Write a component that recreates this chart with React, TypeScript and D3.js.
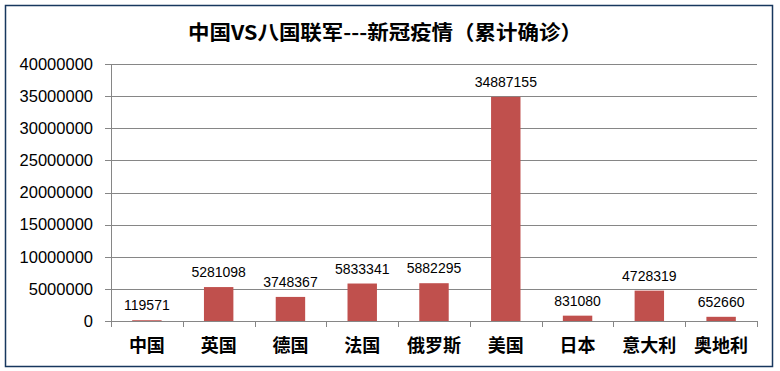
import { useEffect, useRef } from 'react';
import * as d3 from 'd3';

const countries = ['中国', '英国', '德国', '法国', '俄罗斯', '美国', '日本', '意大利', '奥地利'];
const confirmed = [119571, 5281098, 3748367, 5833341, 5882295, 34887155, 831080, 4728319, 652660];
const yTicks = [0, 5000000, 10000000, 15000000, 20000000, 25000000, 30000000, 35000000, 40000000];
const title = '中国VS八国联军---新冠疫情（累计确诊）';

export default function App() {
  const svgRef = useRef<SVGSVGElement>(null);

  useEffect(() => {
    if (!svgRef.current) return;
    const width = 780;
    const height = 371;
    const left = 111;
    const right = 757;
    const top = 64;
    const bottom = 321;

    const svg = d3.select(svgRef.current);
    svg.selectAll('*').remove();

    svg.append('rect')
      .attr('width', width)
      .attr('height', height)
      .attr('fill', '#fff');

    // outer frame
    svg.append('rect')
      .attr('x', 5.5)
      .attr('y', 5.5)
      .attr('width', 767)
      .attr('height', 361)
      .attr('fill', 'none')
      .attr('stroke', '#17375e')
      .attr('stroke-width', 1.5);

    svg.append('text')
      .attr('x', 385)
      .attr('y', 40)
      .attr('text-anchor', 'middle')
      .attr('font-family', '"Noto Sans CJK SC", sans-serif')
      .attr('font-weight', 'bold')
      .attr('font-size', '20px')
      .attr('textLength', 394)
      .attr('lengthAdjust', 'spacingAndGlyphs')
      .attr('fill', '#000')
      .text(title);

    const x = d3.scaleBand<string>()
      .domain(countries)
      .range([left, right])
      .paddingInner(0.59)
      .paddingOuter(0.295);

    const y = d3.scaleLinear()
      .domain([0, 40000000])
      .range([bottom, top]);

    // gridlines + y ticks
    const grid = svg.append('g');
    grid.selectAll('line')
      .data(yTicks)
      .enter()
      .append('line')
      .attr('x1', left - 6)
      .attr('x2', right)
      .attr('y1', d => Math.round(y(d)) + 0.5)
      .attr('y2', d => Math.round(y(d)) + 0.5)
      .attr('stroke', '#868686')
      .attr('stroke-width', 1);

    grid.selectAll('text')
      .data(yTicks)
      .enter()
      .append('text')
      .attr('x', 93)
      .attr('y', d => y(d))
      .attr('dy', '0.35em')
      .attr('text-anchor', 'end')
      .attr('font-family', '"Liberation Sans", Arial, sans-serif')
      .attr('font-size', '16.5px')
      .attr('fill', '#000')
      .text(d => String(d));

    // y axis line
    svg.append('line')
      .attr('x1', left + 0.5)
      .attr('x2', left + 0.5)
      .attr('y1', top)
      .attr('y2', bottom)
      .attr('stroke', '#868686');

    // category ticks
    const step = x.step();
    const bounds = d3.range(countries.length + 1).map(i => left + i * step);
    svg.append('g')
      .selectAll('line')
      .data(bounds)
      .enter()
      .append('line')
      .attr('x1', d => Math.round(d) + 0.5)
      .attr('x2', d => Math.round(d) + 0.5)
      .attr('y1', bottom)
      .attr('y2', bottom + 6)
      .attr('stroke', '#868686');

    // bars
    svg.append('g')
      .selectAll('rect')
      .data(countries)
      .enter()
      .append('rect')
      .attr('x', d => x(d)!)
      .attr('width', x.bandwidth())
      .attr('y', (d, i) => y(confirmed[i]))
      .attr('height', (d, i) => bottom - y(confirmed[i]))
      .attr('fill', '#c0504d');

    // data labels
    svg.append('g')
      .selectAll('text')
      .data(countries)
      .enter()
      .append('text')
      .attr('x', d => x(d)! + x.bandwidth() / 2)
      .attr('y', (d, i) => y(confirmed[i]) - 10)
      .attr('text-anchor', 'middle')
      .attr('font-family', '"Liberation Sans", Arial, sans-serif')
      .attr('font-size', '14px')
      .attr('fill', '#000')
      .text((d, i) => String(confirmed[i]));

    // category labels
    svg.append('g')
      .selectAll('text')
      .data(countries)
      .enter()
      .append('text')
      .attr('x', d => x(d)! + x.bandwidth() / 2)
      .attr('y', 352)
      .attr('text-anchor', 'middle')
      .attr('font-family', '"Noto Sans CJK SC", sans-serif')
      .attr('font-weight', 'bold')
      .attr('font-size', '18px')
      .attr('fill', '#000')
      .text(d => d);
  }, []);

  return (
    <svg
      ref={svgRef}
      width={780}
      height={371}
      viewBox="0 0 780 371"
      style={{ position: 'absolute', left: 0, top: 0, display: 'block' }}
    />
  );
}
